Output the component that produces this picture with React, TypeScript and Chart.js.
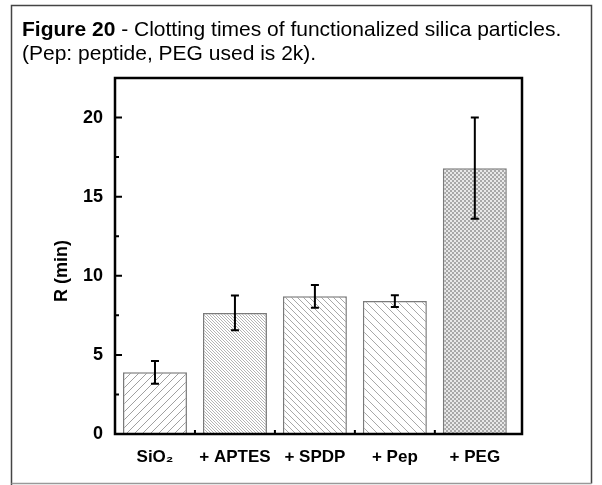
import { useEffect, useRef } from 'react';
import { Chart, registerables } from 'chart.js';

Chart.register(...registerables);

const categories = ['SiO₂', '+ APTES', '+ SPDP', '+ Pep', '+ PEG'];
const meanValues = [3.9, 7.65, 8.7, 8.4, 16.8];
const errorValues = [0.72, 1.1, 0.72, 0.37, 3.2];
const yTicks = [0, 5, 10, 15, 20];
const yMinorTicks = [2.5, 7.5, 12.5, 17.5];
const xMinorTicks = [1.5, 2.5, 3.5, 4.5];
const titleBold = 'Figure 20';
const titleRest = ' - Clotting times of functionalized silica particles.';
const titleLine2 = '(Pep: peptide, PEG used is 2k).';
const yAxisTitle = 'R (min)';

const FONT = '"Liberation Sans", Arial, sans-serif';

function linePattern(size: number, dir: string, color: string, lw: number) {
  const c = document.createElement('canvas');
  c.width = size;
  c.height = size;
  const g = c.getContext('2d')!;
  g.fillStyle = '#ffffff';
  g.fillRect(0, 0, size, size);
  g.strokeStyle = color;
  g.lineWidth = lw;
  g.beginPath();
  for (let k = -1; k <= 1; k++) {
    if (dir === '/') {
      g.moveTo(k * size, size);
      g.lineTo(k * size + size, 0);
    } else {
      g.moveTo(k * size, 0);
      g.lineTo(k * size + size, size);
    }
  }
  g.stroke();
  return g.createPattern(c, 'repeat')!;
}

function checkerPattern(bg: string, fg: string) {
  const c = document.createElement('canvas');
  c.width = 4;
  c.height = 4;
  const g = c.getContext('2d')!;
  g.fillStyle = bg;
  g.fillRect(0, 0, 4, 4);
  g.fillStyle = fg;
  g.fillRect(0, 0, 2, 2);
  g.fillRect(2, 2, 2, 2);
  return g.createPattern(c, 'repeat')!;
}

const figPlugin = {
  id: 'figPlugin',
  beforeDraw(chart: any) {
    const ctx = chart.ctx;
    ctx.save();
    ctx.fillStyle = '#ffffff';
    ctx.fillRect(0, 0, chart.width, chart.height);
    // outer box
    ctx.strokeStyle = '#444';
    ctx.lineWidth = 1.5;
    ctx.beginPath();
    ctx.moveTo(11.5, 485);
    ctx.lineTo(11.5, 5.5);
    ctx.lineTo(591.5, 5.5);
    ctx.lineTo(591.5, 483.5);
    ctx.stroke();
    ctx.strokeStyle = '#999';
    ctx.beginPath();
    ctx.moveTo(11.5, 483.5);
    ctx.lineTo(591.5, 483.5);
    ctx.stroke();
    // title
    ctx.fillStyle = '#000';
    ctx.textBaseline = 'alphabetic';
    ctx.textAlign = 'left';
    ctx.font = `bold 21px ${FONT}`;
    ctx.fillText(titleBold, 22, 36);
    const w = ctx.measureText(titleBold).width;
    ctx.font = `21px ${FONT}`;
    ctx.fillText(titleRest, 22 + w, 36);
    ctx.fillText(titleLine2, 22, 60);
    ctx.restore();
  },
  afterDatasetsDraw(chart: any) {
    const ctx = chart.ctx;
    const xs = chart.scales.x;
    const ys = chart.scales.y;
    const area = chart.chartArea;
    ctx.save();
    // error bars
    ctx.strokeStyle = '#000';
    ctx.lineWidth = 2;
    meanValues.forEach((m, i) => {
      const px = xs.getPixelForValue(i + 1);
      const top = ys.getPixelForValue(m + errorValues[i]);
      const bot = ys.getPixelForValue(m - errorValues[i]);
      ctx.beginPath();
      ctx.moveTo(px, top);
      ctx.lineTo(px, bot);
      ctx.moveTo(px - 4, top);
      ctx.lineTo(px + 4, top);
      ctx.moveTo(px - 4, bot);
      ctx.lineTo(px + 4, bot);
      ctx.stroke();
    });
    // frame
    ctx.lineWidth = 2.5;
    ctx.strokeRect(area.left, area.top, area.right - area.left, area.bottom - area.top);
    // ticks
    ctx.lineWidth = 2;
    ctx.beginPath();
    yTicks.forEach((v) => {
      const py = ys.getPixelForValue(v);
      ctx.moveTo(area.left, py);
      ctx.lineTo(area.left + 7, py);
    });
    yMinorTicks.forEach((v) => {
      const py = ys.getPixelForValue(v);
      ctx.moveTo(area.left, py);
      ctx.lineTo(area.left + 4, py);
    });
    xMinorTicks.forEach((v) => {
      const px = xs.getPixelForValue(v);
      ctx.moveTo(px, area.bottom);
      ctx.lineTo(px, area.bottom - 4);
    });
    ctx.stroke();
    // y title
    ctx.translate(62, 271);
    ctx.rotate(-Math.PI / 2);
    ctx.fillStyle = '#000';
    ctx.font = `bold 18px ${FONT}`;
    ctx.textAlign = 'center';
    ctx.textBaseline = 'middle';
    ctx.fillText(yAxisTitle, 0, 0);
    ctx.restore();
  },
};

export default function App() {
  const ref = useRef<HTMLCanvasElement>(null);
  useEffect(() => {
    const canvas = ref.current!;
    const patterns = [
      linePattern(8, '/', '#a0a0a0', 1),
      linePattern(3, '\\', '#b4b4b4', 1),
      linePattern(6, '\\', '#a8a8a8', 1),
      linePattern(8, '\\', '#a8a8a8', 1),
      checkerPattern('#e8e8e8', '#a8a8a8'),
    ];
    const chart = new Chart(canvas, {
      type: 'bar',
      data: {
        datasets: [
          {
            data: meanValues.map((v, i) => ({ x: i + 1, y: v })) as any,
            backgroundColor: patterns as any,
            borderColor: '#7a7a7a',
            borderWidth: 1.5,
            barPercentage: 0.8,
            categoryPercentage: 1,
          },
        ],
      },
      plugins: [figPlugin],
      options: {
        responsive: false,
        animation: false,
        devicePixelRatio: 1,
        layout: { padding: { left: 0, top: 78, right: 80, bottom: 0 } },
        plugins: { legend: { display: false }, tooltip: { enabled: false }, title: { display: false } },
        scales: {
          x: {
            type: 'linear',
            min: 0.5,
            max: 5.59,
            offset: false,
            grid: { display: false, drawTicks: false },
            border: { display: false },
            afterBuildTicks: (axis: any) => {
              axis.ticks = categories.map((_, i) => ({ value: i + 1 }));
            },
            afterFit: (scale: any) => {
              scale.height = 51;
            },
            ticks: {
              autoSkip: false,
              maxRotation: 0,
              padding: 13,
              color: '#000',
              font: { family: FONT, size: 17, weight: 'bold' },
              callback: (v: any) => categories[Math.round(v) - 1] ?? '',
            },
          },
          y: {
            type: 'linear',
            min: 0,
            max: 22.5,
            grid: { display: false, drawTicks: false },
            border: { display: false },
            afterBuildTicks: (axis: any) => {
              axis.ticks = yTicks.map((v) => ({ value: v }));
            },
            afterFit: (scale: any) => {
              scale.width = 115;
            },
            ticks: {
              padding: 12,
              color: '#000',
              font: { family: FONT, size: 18, weight: 'bold' },
              callback: (v: any) => String(v),
            },
          },
        },
      } as any,
    });
    return () => chart.destroy();
  }, []);
  return (
    <div style={{ position: 'absolute', left: 0, top: 0, width: 602, height: 485 }}>
      <canvas ref={ref} width={602} height={485} style={{ display: 'block' }} />
    </div>
  );
}
